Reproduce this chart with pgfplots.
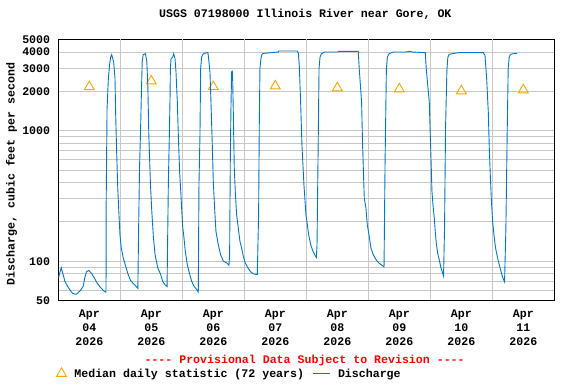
\documentclass[border=0pt]{standalone}
\usepackage{pgfplots}
\pgfplotsset{compat=1.18}
\usepackage{fontspec}
\setmainfont{Liberation Mono}
\definecolor{qline}{RGB}{0,120,204}
\definecolor{qorange}{RGB}{255,165,0}
\definecolor{qgrid}{RGB}{200,200,200}
\newcommand{\ff}{\fontsize{11.6bp}{13.8bp}\selectfont\bfseries}
\begin{document}
\begin{tikzpicture}
\useasboundingbox (0,0) rectangle (576bp,384bp);
\begin{axis}[
  at={(58.3bp,83.5bp)}, anchor=south west,
  scale only axis, width=496bp, height=261bp,
  xmin=0, xmax=192, ymode=log, ymin=50, ymax=5000,
  axis line style={black, line width=1.2bp},
  font=\ff,
  xtick={12,36,60,84,108,132,156,180},
  xticklabels={{Apr\\04\\2026},{Apr\\05\\2026},{Apr\\06\\2026},{Apr\\07\\2026},{Apr\\08\\2026},{Apr\\09\\2026},{Apr\\10\\2026},{Apr\\11\\2026}},
  xticklabel style={align=center, font=\ff, inner sep=0pt, yshift=-9.5bp},
  extra x ticks={24,48,72,96,120,144,168},
  extra x tick labels={},
  extra x tick style={grid=major},
  ytick={50,100,1000,2000,3000,4000,5000},
  yticklabels={50,100,1000,2000,3000,4000,5000},
  yticklabel style={font=\ff, inner sep=0pt, xshift=-8bp},
  minor ytick={60,70,80,90,200,300,400,500,600,700,800,900},
  ymajorgrids=true, yminorgrids=true,
  major tick length=0pt, minor tick length=0pt,
  grid style={qgrid, line width=0.9bp},
  minor grid style={qgrid, line width=0.9bp},
  title={USGS 07198000 Illinois River near Gore, OK},
  title style={at={(axis description cs:0.498,1.0747)}, anchor=center, font=\ff, inner sep=0pt},
  ylabel={Discharge, cubic feet per second},
  ylabel style={at={(axis description cs:-0.094,0.485)}, anchor=center, font=\ff, inner sep=0pt},
  legend columns=2,
  legend style={at={(axis description cs:-0.010,-0.280)}, anchor=west, draw=none, fill=none, font=\ff,
    /tikz/every odd column/.append style={column sep=6bp},
    /tikz/every even column/.append style={column sep=6bp}},
  legend cell align=left,
  clip mode=individual,
]
\addplot[only marks, mark=triangle, mark size=5.7bp, draw=qorange, mark options={solid, line width=0.9bp, draw=qorange, fill=none}]
coordinates {(12,2170) (36,2400) (60,2170) (84,2200) (108,2126) (132,2088) (156,2016) (180,2052)};
\addlegendentry{Median daily statistic (72 years)}
\addplot[qline, line width=0.9bp, no marks] coordinates {
(0.1,75) (0.6,82) (1.16,89) (2.57,70) (3.85,63) (5.39,57) (6.42,56) (7.06,56) (8.34,59) (9.63,64)
(10.27,75) (10.91,83) (11.81,85) (12.83,81) (13.86,75) (15.02,68) (16.30,63) (17.33,60) (18.22,58) (18.48,58)
(18.50,234) (18.87,1463) (19.38,2507) (19.89,3265) (20.28,3670) (20.66,3827) (20.92,3670) (21.43,3363) (21.95,2507) (22.20,1356)
(22.59,692) (22.97,385) (23.36,255) (23.87,160) (24.38,126) (25.15,106) (25.92,94) (26.95,80) (27.98,71) (29.52,66)
(30.80,62) (31.06,160) (31.44,516) (31.83,982) (32.21,2105) (32.47,3363) (32.86,3827) (33.75,3890) (34.27,3363) (34.65,2232)
(35.04,927) (35.68,385) (36.19,241) (36.83,151) (37.47,112) (38.50,89) (39.53,80) (40.43,70) (41.32,66) (42.10,64)
(42.35,160) (42.61,408) (42.99,927) (43.25,1765) (43.38,2990) (43.64,3567) (44.28,3670) (44.66,3890) (45.18,3567) (45.56,2820)
(46.07,1665) (46.46,927) (46.97,480) (47.45,330) (47.74,255) (48.13,185) (48.65,151) (49.16,119) (49.94,94) (50.71,81.5)
(51.61,70.4) (52.52,64.4) (53.55,60.8) (54.19,58) (54.45,385) (54.84,927) (55.10,2990) (55.48,3670) (56.13,3890) (57.42,3963)
(57.93,3963) (58.19,3567) (58.71,2820) (59.09,1665) (59.61,778) (60.00,408) (60.51,255) (61.03,169) (61.93,134) (62.84,112)
(63.87,100) (65.16,97) (66.06,93) (66.32,112) (66.58,580) (66.83,1480) (67.09,2820) (67.35,2852) (67.48,2583) (67.74,1396)
(68.12,516) (68.51,342) (69.03,227) (69.67,180) (70.32,142) (70.96,126) (71.61,109) (72.38,97) (73.41,89) (74.45,83)
(75.48,80) (77.03,79) (77.28,134) (77.54,227) (77.80,1105) (78.06,2990) (78.44,3567) (78.83,3847) (79.35,3914) (80.90,3938)
(85.15,4010) (85.3,4080) (89.67,4080) (92.51,4080) (92.89,3963) (93.28,3170) (93.80,1665) (94.31,778) (95.09,385) (95.86,227)
(96.39,191) (96.91,160) (97.69,134) (98.59,119) (99.63,109) (99.89,107) (100.15,134) (100.54,615) (100.93,2990) (101.32,3670)
(101.84,3890) (103.13,4010) (108.32,4010) (108.5,4055) (116.10,4055) (116.49,2990) (117.40,1665) (117.79,778) (118.44,304) (119.09,255)
(119.61,191) (120.25,160) (121.03,126) (121.94,112) (123.24,101) (124.53,95.4) (126.09,90.5) (126.48,547) (127.00,2990) (127.39,3670)
(128.04,3890) (129.72,4010) (134.26,4010) (136.21,4055) (137,4010) (142.05,3963) (142.43,2990) (143.60,1665) (143.99,927) (144.38,516)
(144.64,342) (145.03,271) (145.54,214) (145.92,169) (146.31,138) (146.82,116) (147.59,100) (148.11,89) (148.62,83) (149.13,77)
(149.52,185) (149.90,1042) (150.42,2904) (150.80,3670) (151.31,3847) (152.34,3890) (154.91,3963) (164.53,3963) (165.17,3782) (165.81,2507)
(166.45,1396) (166.84,733) (167.22,459) (167.61,304) (168.12,202) (168.63,160) (169.27,126) (170.04,106) (170.69,94) (171.33,84)
(171.97,75.5) (172.74,69.5) (173.25,174) (173.77,982) (174.15,2990) (174.54,3670) (175.05,3847) (176.08,3890) (177.61,3914)
};
\addlegendentry{Discharge}
\node[font=\ff, text=red, anchor=center, inner sep=0pt] at (axis description cs:0.4966,-0.228) {-{}-{}-{}- Provisional Data Subject to Revision -{}-{}-{}-};
\end{axis}
\end{tikzpicture}
\end{document}
